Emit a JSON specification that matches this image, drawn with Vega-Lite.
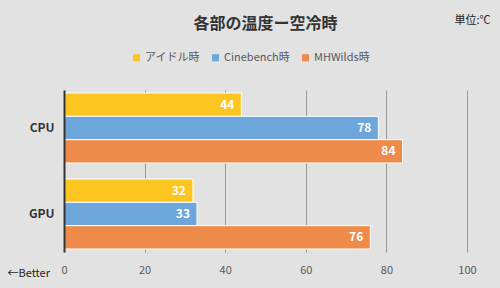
{
  "$schema": "https://vega.github.io/schema/vega-lite/v6.json",
  "autosize": "none",
  "width": 403,
  "height": 162,
  "padding": {"left": 64, "top": 90, "right": 33, "bottom": 36},
  "background": "#e2e2e2",
  "config": {
    "font": "Noto Sans CJK JP",
    "view": {"stroke": null},
    "axis": {"labelFont": "Noto Sans CJK JP", "titleFont": "Noto Sans CJK JP"}
  },
  "title": {
    "text": "各部の温度ー空冷時",
    "fontSize": 16,
    "fontWeight": "bold",
    "color": "#333333",
    "anchor": "middle",
    "offset": 0,
    "dy": 18
  },
  "data": {
    "values": [
      {"part": "CPU", "series": "アイドル時", "value": 44},
      {"part": "CPU", "series": "Cinebench時", "value": 78},
      {"part": "CPU", "series": "MHWilds時", "value": 84},
      {"part": "GPU", "series": "アイドル時", "value": 32},
      {"part": "GPU", "series": "Cinebench時", "value": 33},
      {"part": "GPU", "series": "MHWilds時", "value": 76}
    ]
  },
  "encoding": {
    "y": {
      "field": "part",
      "type": "nominal",
      "sort": ["CPU", "GPU"],
      "scale": {"paddingInner": 0.186, "paddingOuter": 0.035},
      "axis": {
        "title": "単位:℃",
        "titleAngle": 0,
        "titleX": 426,
        "titleY": -70,
        "titleAlign": "right",
        "titleBaseline": "middle",
        "titleFontSize": 11,
        "titleFontWeight": "normal",
        "titleColor": "#222222",
        "domainColor": "#333333",
        "domainWidth": 2,
        "ticks": false,
        "zindex": 1,
        "labelFontSize": 12,
        "labelFontWeight": "bold",
        "labelColor": "#333333",
        "labelPadding": 10
      }
    },
    "yOffset": {
      "field": "series",
      "type": "nominal",
      "sort": ["アイドル時", "Cinebench時", "MHWilds時"],
      "scale": {"paddingInner": 0, "paddingOuter": 0}
    },
    "x": {
      "field": "value",
      "type": "quantitative",
      "scale": {"domain": [0, 100], "nice": false},
      "axis": {
        "values": [0, 20, 40, 60, 80, 100],
        "title": "←Better",
        "titleX": -57,
        "titleY": 21,
        "titleAlign": "left",
        "titleBaseline": "middle",
        "titleFontSize": 11,
        "titleFontWeight": "normal",
        "titleColor": "#222222",
        "domain": false,
        "ticks": false,
        "grid": true,
        "gridColor": "#9a9a9a",
        "gridWidth": 1,
        "labelFlush": false,
        "labelFontSize": 11,
        "labelColor": "#595959",
        "labelPadding": 12
      }
    }
  },
  "layer": [
    {
      "mark": {"type": "bar", "stroke": "#ffffff", "strokeWidth": 1},
      "encoding": {
        "color": {
          "field": "series",
          "type": "nominal",
          "scale": {
            "domain": ["アイドル時", "Cinebench時", "MHWilds時"],
            "range": ["#fdc51f", "#6ca6da", "#ee8b4a"]
          },
          "legend": {
            "title": null,
            "orient": "none",
            "direction": "horizontal",
            "legendX": 67,
            "legendY": -38,
            "symbolType": "square",
            "symbolSize": 50,
            "symbolStrokeWidth": 0,
            "labelFontSize": 11,
            "labelColor": "#595959",
            "columnPadding": 10,
            "labelOffset": 3
          }
        }
      }
    },
    {
      "mark": {
        "type": "text",
        "align": "right",
        "baseline": "middle",
        "dx": -7,
        "color": "#ffffff",
        "fontWeight": "bold",
        "fontSize": 12
      },
      "encoding": {
        "text": {"field": "value", "type": "quantitative"}
      }
    }
  ]
}
